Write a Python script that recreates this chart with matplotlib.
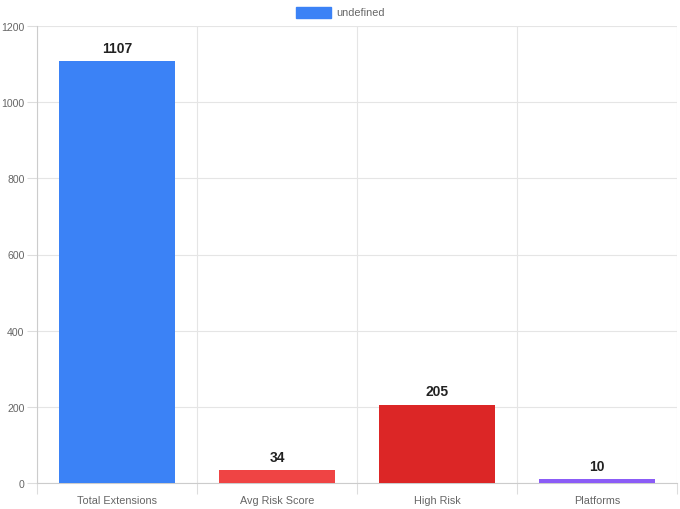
import matplotlib.pyplot as plt

categories = ["Total Extensions", "Avg Risk Score", "High Risk", "Platforms"]
values = [1107, 34, 205, 10]
colors = ["#3b82f6", "#ef4444", "#dc2626", "#8b5cf6"]
yticks = [0, 200, 400, 600, 800, 1000, 1200]

plt.rcParams['font.family'] = ['Liberation Sans', 'DejaVu Sans']

fig = plt.figure(figsize=(6.8, 5.1), dpi=100)
ax = fig.add_axes([37 / 680, 26 / 510, 640 / 680, 457 / 510])

x = list(range(len(categories)))
ax.bar(x, values, width=0.72, color=colors, zorder=3)
for i, v in enumerate(values):
    ax.text(i, v + 17, str(v), ha='center', va='bottom', fontsize=10,
            fontweight='bold', color='#222222')

ax.set_xlim(-0.5, len(categories) - 0.5)
ax.set_ylim(0, 1200)
ax.set_yticks(yticks)
ax.set_xticks([i - 0.5 for i in range(len(categories) + 1)], minor=False)
ax.set_xticklabels([])
ax.set_xticks(x, minor=True)
ax.set_xticklabels(categories, minor=True)
ax.tick_params(axis='x', which='minor', length=0, labelsize=7.8, colors='#666666', pad=9)
ax.tick_params(axis='x', which='major', length=8, color='#dddddd')
ax.tick_params(axis='y', length=7, color='#dddddd', labelsize=7.6, labelcolor='#666666', pad=2)
ax.grid(True, which='major', color='#e5e5e5', linewidth=0.8, zorder=0)
for s in ['top', 'right']:
    ax.spines[s].set_visible(False)
for s in ['left', 'bottom']:
    ax.spines[s].set_color('#cccccc')

# legend
fig.patches.append(plt.Rectangle((296 / 680, 1 - 19 / 510), 35 / 680, 11 / 510,
                                 transform=fig.transFigure, color=colors[0]))
fig.text(336 / 680, 1 - 13.5 / 510, "undefined", fontsize=7.8, color='#666666', va='center')

fig.savefig("out.png", dpi=100)
